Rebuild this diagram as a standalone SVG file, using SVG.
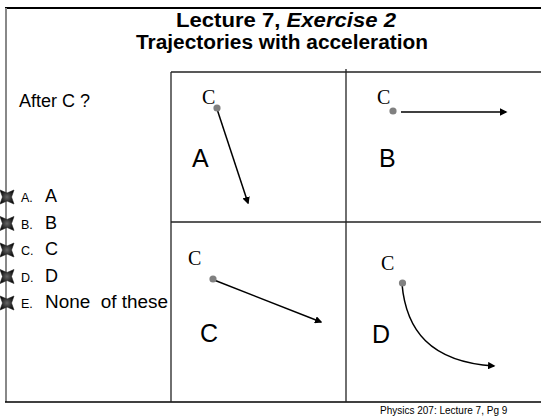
<svg xmlns="http://www.w3.org/2000/svg" width="541" height="416" viewBox="0 0 541 416">
<defs>
<style>
.title{font-family:"Liberation Sans",Arial,sans-serif;font-weight:bold;font-size:20px;fill:#000}
.sans{font-family:"Liberation Sans",Arial,sans-serif;fill:#000}
.serif{font-family:"Liberation Serif","Times New Roman",serif;font-size:20px;fill:#000}
.big{font-family:"Liberation Sans",Arial,sans-serif;font-size:25px;fill:#000}
.opt{font-family:"Liberation Sans",Arial,sans-serif;font-size:18px;fill:#000}
.optl{font-family:"Liberation Sans",Arial,sans-serif;font-size:12.5px;fill:#000}
.grid{stroke:#222;stroke-width:1.3;fill:none}
.arr{stroke:#000;stroke-width:1.5;fill:none;marker-end:url(#ah)}
.dot{fill:#808080}
</style>
<marker id="ah" viewBox="0 0 10 10" refX="8" refY="5" markerWidth="5" markerHeight="5" orient="auto" markerUnits="strokeWidth">
<path d="M0,0 L10,5 L0,10 z" fill="#000"/>
</marker>
<radialGradient id="bg" cx="0.5" cy="0.5" r="0.6">
<stop offset="0" stop-color="#666"/>
<stop offset="1" stop-color="#000"/>
</radialGradient>
<path id="xb" d="M-7,-7 L0,-4 L7,-7 L4.5,0 L7,7 L0,4 L-7,7 L-4.5,0 z" fill="url(#bg)" stroke="#222" stroke-width="0.6"/>
</defs>
<rect width="541" height="416" fill="#fff"/>

<g id="frame">
<line x1="5" y1="8" x2="541" y2="8" stroke="#000" stroke-width="2"/>
<line x1="6" y1="8" x2="6" y2="402" stroke="#888" stroke-width="2"/>
<line x1="5" y1="402" x2="541" y2="402" stroke="#000" stroke-width="1.5"/>
</g>

<g id="title">
<text class="title" x="286" y="27" text-anchor="middle" textLength="220" lengthAdjust="spacingAndGlyphs">Lecture 7, <tspan font-style="italic">Exercise 2</tspan></text>
<text class="title" x="282" y="49" text-anchor="middle" textLength="292" lengthAdjust="spacingAndGlyphs">Trajectories with acceleration</text>
</g>

<g id="question">
<text class="sans" x="19" y="107" font-size="18">After C ?</text>
</g>

<g id="options">
<use href="#xb" x="7" y="197"/>
<use href="#xb" x="7" y="223.5"/>
<use href="#xb" x="7" y="250"/>
<use href="#xb" x="7" y="276.5"/>
<use href="#xb" x="7" y="303"/>
<text class="optl" x="21" y="202">A.</text><text class="opt" x="45" y="202">A</text>
<text class="optl" x="21" y="228.5">B.</text><text class="opt" x="45" y="228.5">B</text>
<text class="optl" x="21" y="255">C.</text><text class="opt" x="45" y="255">C</text>
<text class="optl" x="21" y="281.5">D.</text><text class="opt" x="45" y="281.5">D</text>
<text class="optl" x="21" y="308">E.</text><text class="opt" x="45" y="308" xml:space="preserve" textLength="123" lengthAdjust="spacingAndGlyphs">None  of these</text>
</g>

<g id="grid">
<line class="grid" x1="171" y1="72" x2="541" y2="72"/>
<line class="grid" x1="171" y1="72" x2="171" y2="402"/>
<line class="grid" x1="346" y1="69" x2="346" y2="402" stroke="#555"/>
<line class="grid" x1="171" y1="222" x2="541" y2="222"/>
</g>

<g id="panelA">
<text class="serif" x="202" y="104">C</text>
<text class="big" x="192" y="167">A</text>
</g>
<g id="panelB">
<text class="serif" x="377" y="104">C</text>
<text class="big" x="379" y="167">B</text>
</g>
<g id="panelC">
<text class="serif" x="188" y="265">C</text>
<text class="big" x="200" y="342">C</text>
</g>
<g id="panelD">
<text class="serif" x="381" y="270">C</text>
<text class="big" x="372" y="343">D</text>
</g>

<g id="connectors">
<line class="arr" x1="217" y1="109" x2="248" y2="203"/>
<line class="arr" x1="401" y1="112" x2="506" y2="112"/>
<line class="arr" x1="214" y1="280" x2="321" y2="322"/>
<path class="arr" d="M402,284 C406,330 430,362 494,366"/>
<circle class="dot" cx="217" cy="108" r="3.6"/>
<circle class="dot" cx="393" cy="111" r="3.6"/>
<circle class="dot" cx="213" cy="279" r="3.6"/>
<circle class="dot" cx="402.5" cy="283" r="3.6"/>
</g>

<g id="footer">
<text class="sans" x="380" y="414" font-size="10">Physics 207: Lecture 7, Pg 9</text>
</g>
</svg>
